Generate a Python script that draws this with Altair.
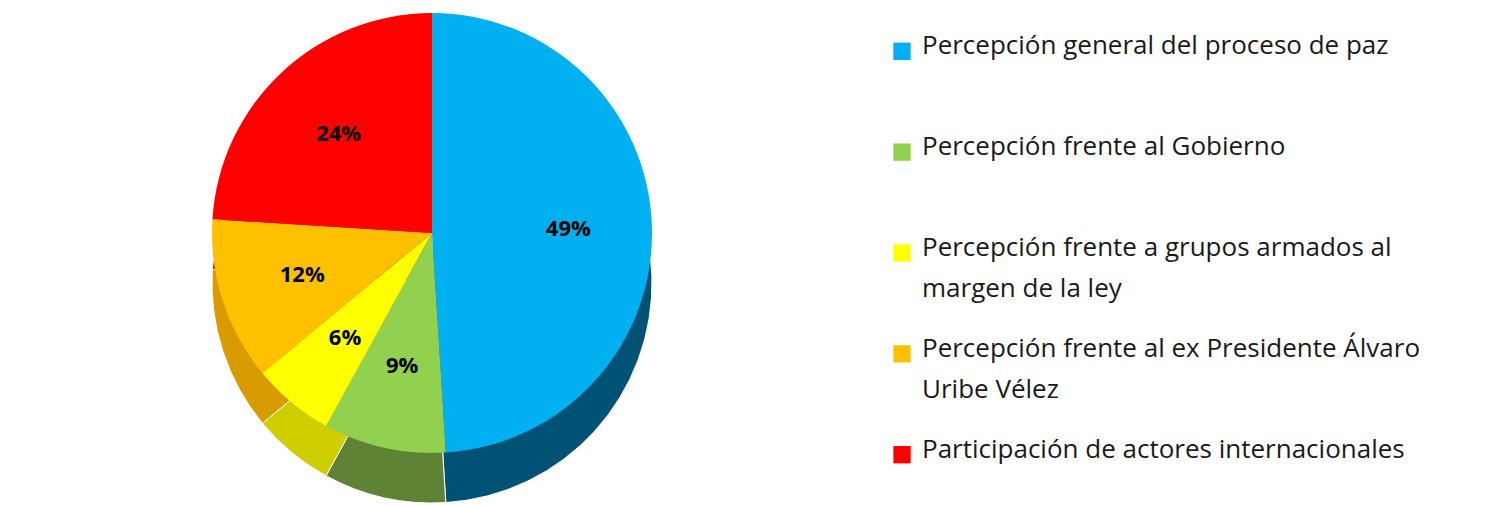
import altair as alt
import pandas as pd

categories = [
    "Percepción general del proceso de paz",
    "Percepción frente al Gobierno",
    "Percepción frente a grupos armados al margen de la ley",
    "Percepción frente al ex Presidente Álvaro Uribe Vélez",
    "Participación de actores internacionales",
]
legend_lines = [
    ["Percepción general del proceso de paz"],
    ["Percepción frente al Gobierno"],
    ["Percepción frente a grupos armados al", "margen de la ley"],
    ["Percepción frente al ex Presidente Álvaro", "Uribe Vélez"],
    ["Participación de actores internacionales"],
]
values = [49, 9, 6, 12, 24]
labels = ["49%", "9%", "6%", "12%", "24%"]
top_colors = ["#00B0F0", "#92D050", "#FFFF00", "#FFC000", "#FF0000"]
side_colors = ["#005274", "#5E8334", "#CFCF00", "#D99C00", "#B00000"]

df = pd.DataFrame({
    "cat": categories,
    "value": values,
    "label": labels,
    "order": list(range(len(categories))),
    "top": top_colors,
    "side": side_colors,
})

CX, CY, R, DEPTH = 419, 217, 220, 50

base = alt.Chart(df).encode(
    theta=alt.Theta("value:Q", stack=True),
    order=alt.Order("order:Q"),
)

side = base.mark_arc(radius=R, stroke="white", strokeWidth=1).encode(
    color=alt.Color("side:N", scale=None),
    x=alt.value(CX), y=alt.value(CY + DEPTH),
)
top = base.mark_arc(radius=R).encode(
    color=alt.Color("top:N", scale=None),
    x=alt.value(CX), y=alt.value(CY),
)
text = base.mark_text(radius=R * 0.62, font="Open Sans", fontSize=22,
                      fontWeight="bold", color="black").encode(
    text="label:N",
    x=alt.value(CX), y=alt.value(CY),
)

pie = alt.layer(side, top, text).properties(width=860, height=490)

leg_df = pd.DataFrame({
    "cat": categories,
    "lines": legend_lines,
    "color": top_colors,
})

leg_base = alt.Chart(leg_df).encode(
    y=alt.Y("cat:N", sort=categories, axis=None,
            scale=alt.Scale(type="point", padding=0.35)),
)
squares = leg_base.mark_square(size=300, opacity=1, filled=True).encode(
    x=alt.value(19),
    color=alt.Color("color:N", scale=None),
)
leg_text = leg_base.mark_text(align="left", baseline="top", dy=-18,
                              font="Open Sans", fontSize=26,
                              lineHeight=41, color="#1a1a1a").encode(
    x=alt.value(39),
    text="lines",
)
legend = alt.layer(squares, leg_text).properties(width=590, height=474)

chart = alt.hconcat(pie, legend, spacing=10).configure_view(stroke=None)

chart.save("out.html", embed_options={"renderer": "svg", "actions": False})
